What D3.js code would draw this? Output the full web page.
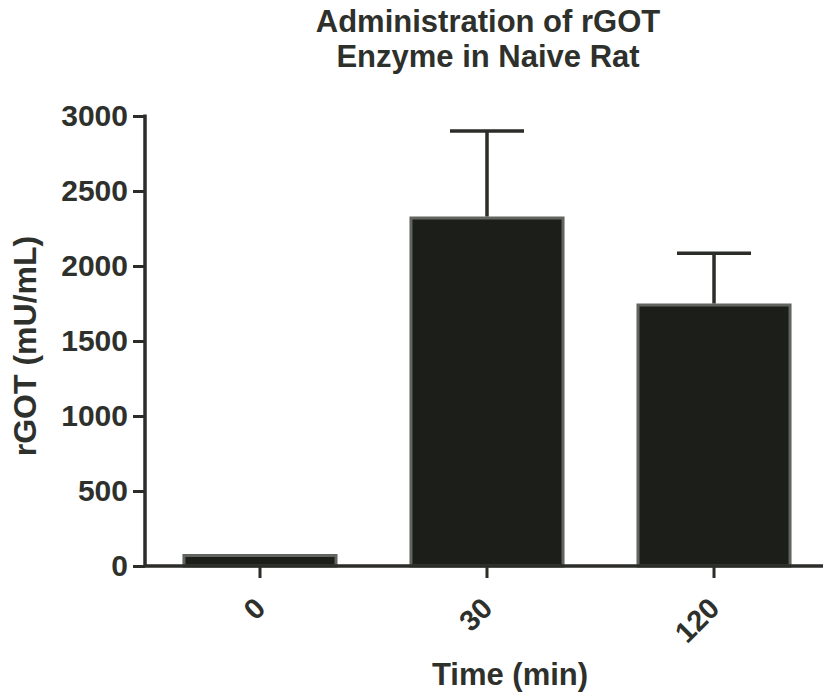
<!DOCTYPE html>
<html>
<head>
<meta charset="utf-8">
<script src="https://cdn.jsdelivr.net/npm/d3@7"></script>
<style>
  html, body { margin: 0; padding: 0; background: #fff; }
  svg { display: block; }
  text { font-family: "Liberation Sans", Arial, sans-serif; font-weight: bold; fill: #2e302c; }
</style>
</head>
<body>
<svg id="chart" width="823" height="695"></svg>
<script>
// rGOT activity after administration, mean + SEM per time point
const timePoints = ["0", "30", "120"];
const meanValues = [80, 2330, 1750];
const semValues  = [0, 570, 335];
const yTicks     = [0, 500, 1000, 1500, 2000, 2500, 3000];
const titleLines = ["Administration of rGOT", "Enzyme in Naive Rat"];

(function () {
  const svg = d3.select("#chart");
  const W = 823;
  const plotLeft = 145, plotBottom = 566, plotTop = 116;

  const y = d3.scaleLinear().domain([0, 3000]).range([plotBottom, plotTop]);
  const x = d3.scaleBand()
    .domain(timePoints)
    .range([plotLeft, 829])
    .paddingInner(0.317)
    .paddingOuter(0.165);

  const ink = "#2b2d29";

  // title, two centred lines
  svg.append("text")
    .attr("x", 488).attr("y", 32)
    .attr("text-anchor", "middle")
    .style("font-size", "31px")
    .selectAll("tspan").data(titleLines).join("tspan")
    .attr("x", 488)
    .attr("dy", (d, i) => i === 0 ? 0 : 35)
    .text(d => d);

  // bars
  svg.append("g").selectAll("rect").data(timePoints).join("rect")
    .attr("x", d => x(d) + 1.5)
    .attr("width", x.bandwidth() - 3)
    .attr("y", (d, i) => y(meanValues[i]) + 1.5)
    .attr("height", (d, i) => y(0) - y(meanValues[i]) - 1.5)
    .attr("fill", "#1c1e1a")
    .attr("stroke", "#626460")
    .attr("stroke-width", 3);

  // upper error bars (mean + SEM)
  const err = svg.append("g").attr("stroke", ink).attr("stroke-width", 3.5);
  timePoints.forEach((d, i) => {
    if (!semValues[i]) return;
    const cx = x(d) + x.bandwidth() / 2;
    const hi = y(meanValues[i] + semValues[i]);
    err.append("line")
      .attr("x1", cx).attr("x2", cx)
      .attr("y1", y(meanValues[i])).attr("y2", hi);
    err.append("line")
      .attr("x1", cx - 37).attr("x2", cx + 37)
      .attr("y1", hi).attr("y2", hi);
  });

  // y axis
  const yAxis = svg.append("g")
    .attr("transform", `translate(${plotLeft},0)`)
    .call(d3.axisLeft(y).tickValues(yTicks).tickSize(12).tickPadding(5).tickFormat(d3.format("d")));
  yAxis.select(".domain").attr("d", `M0,${plotTop - 1.5}V${plotBottom}`).attr("stroke", ink).attr("stroke-width", 3.5);
  yAxis.selectAll(".tick line").attr("stroke", ink).attr("stroke-width", 3);
  yAxis.selectAll(".tick text").style("font-size", "30px").attr("fill", ink);

  // x axis
  const xAxis = svg.append("g")
    .attr("transform", `translate(0,${plotBottom})`)
    .call(d3.axisBottom(x).tickSize(12).tickSizeOuter(0));
  xAxis.select(".domain").attr("d", `M${plotLeft},0H${W}`).attr("stroke", ink).attr("stroke-width", 3.5);
  xAxis.selectAll(".tick line").attr("stroke", ink).attr("stroke-width", 3);
  xAxis.selectAll(".tick text")
    .style("font-size", "29px")
    .attr("fill", ink)
    .attr("text-anchor", "end")
    .attr("y", 0).attr("dy", "0.35em")
    .attr("transform", "translate(0,37) rotate(-45)");

  // axis titles
  svg.append("text")
    .attr("transform", "translate(36,346) rotate(-90)")
    .attr("text-anchor", "middle")
    .style("font-size", "32px")
    .text("rGOT (mU/mL)");

  svg.append("text")
    .attr("x", 510).attr("y", 685)
    .attr("text-anchor", "middle")
    .style("font-size", "31px")
    .text("Time (min)");
})();
</script>
</body>
</html>
